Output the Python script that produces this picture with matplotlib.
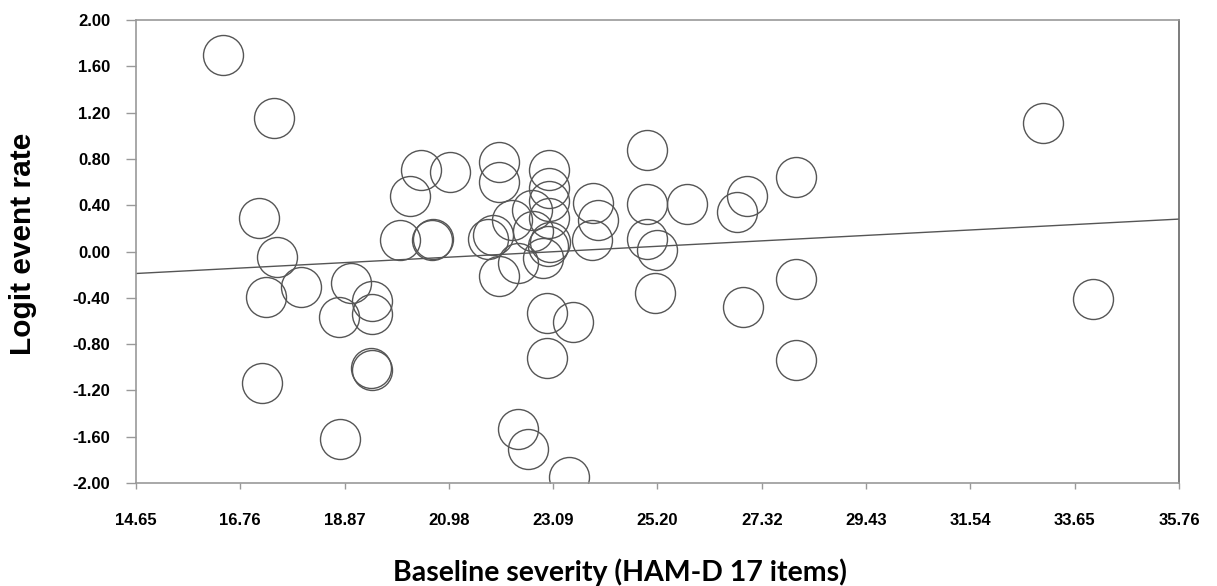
import matplotlib
matplotlib.use("Agg")
import matplotlib.pyplot as plt
import numpy as np

# baseline severity (x) and logit event rate (y) for each study
severity = [16.41, 17.44, 17.14, 17.50, 20.42, 21.00, 20.20, 22.00, 22.00,
            19.99, 20.66, 20.64, 21.77, 21.88, 23.01, 23.01, 23.01, 22.66,
            23.01, 22.26, 23.90, 24.00, 23.88, 22.99, 22.00, 22.38, 22.89,
            22.97, 23.49, 22.97, 24.99, 24.99, 25.80, 24.99, 25.19, 25.15,
            27.02, 26.81, 28.01, 28.01, 26.94, 28.01, 33.01, 34.02, 17.28,
            17.99, 19.00, 18.76, 19.43, 19.43, 19.43, 19.41, 17.20, 18.78,
            22.38, 22.58, 23.41, 22.68, 23.03]
logit_rate = [1.70, 1.15, 0.29, -0.05, 0.70, 0.69, 0.48, 0.77, 0.60,
              0.10, 0.11, 0.10, 0.11, 0.14, 0.70, 0.55, 0.44, 0.36,
              0.29, 0.27, 0.42, 0.27, 0.10, 0.05, -0.21, -0.10, -0.06,
              -0.53, -0.61, -0.92, 0.88, 0.41, 0.41, 0.11, 0.01, -0.36,
              0.48, 0.34, 0.64, -0.24, -0.48, -0.94, 1.11, -0.41, -0.39,
              -0.31, -0.27, -0.57, -0.43, -0.54, -1.02, -1.01, -1.14, -1.62,
              -1.53, -1.71, -1.95, 0.18, 0.08]

# fitted meta-regression line
fit_x = [14.65, 35.76]
fit_y = [-0.19, 0.28]

x_ticks = [14.65, 16.76, 18.87, 20.98, 23.09, 25.20, 27.32, 29.43, 31.54, 33.65, 35.76]
y_ticks = [-2.0, -1.6, -1.2, -0.8, -0.4, 0.0, 0.4, 0.8, 1.2, 1.6, 2.0]

W, H = 1217, 586
fig = plt.figure(figsize=(W / 100, H / 100), dpi=100)
ax = fig.add_axes([136 / W, (H - 483) / H, 1043 / W, 463 / H])

ax.plot(severity, logit_rate, linestyle='none', marker='o', markersize=28.8,
        markerfacecolor='none', markeredgecolor='#555555', markeredgewidth=1.0)
ax.plot(fit_x, fit_y, color='#555555', linewidth=1.0)

ax.set_xlim(14.65, 35.76)
ax.set_ylim(-2.0, 2.0)
ax.set_xticks(x_ticks)
ax.set_xticklabels([f"{v:.2f}" for v in x_ticks])
ax.set_yticks(y_ticks)
ax.set_yticklabels([f"{v:.2f}" for v in y_ticks])

for lab in ax.get_xticklabels() + ax.get_yticklabels():
    lab.set_fontfamily('Liberation Sans')
    lab.set_fontweight('bold')
    lab.set_fontsize(12)

ax.tick_params(axis='both', direction='out', width=1, color='#999999',
               labelcolor='black')
ax.tick_params(axis='x', length=4.5, pad=17)
ax.tick_params(axis='y', length=7.2, pad=11.5)

for side in ['left', 'bottom', 'top']:
    ax.spines[side].set_color('#999999')
    ax.spines[side].set_linewidth(1.2)
ax.spines['right'].set_color('#666666')
ax.spines['right'].set_linewidth(1.2)

# axis titles placed where the reference has them
fig.text(23 / W, 1 - 244 / H, 'Logit event rate', rotation=90,
         ha='center', va='center', fontfamily='Liberation Sans',
         fontweight='bold', fontsize=21.5)
fig.text(620 / W, 1 - 572 / H, 'Baseline severity (HAM-D 17 items)',
         ha='center', va='center', fontfamily='Lato', fontweight='bold',
         fontsize=20.5)

fig.savefig('out.png', dpi=100)
